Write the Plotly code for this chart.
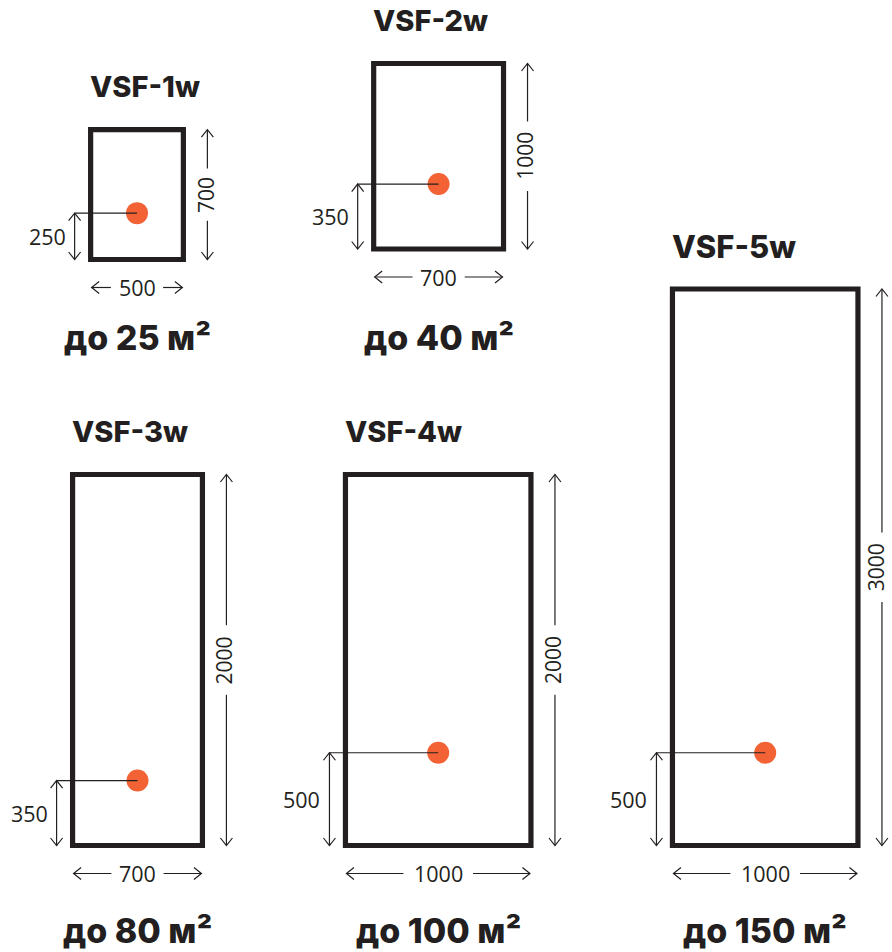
import plotly.graph_objects as go

# ---- data (mm / m²) ----
models = ["VSF-1w", "VSF-2w", "VSF-3w", "VSF-4w", "VSF-5w"]
width_mm = [500, 700, 700, 1000, 1000]
height_mm = [700, 1000, 2000, 2000, 3000]
sensor_mm = [250, 350, 350, 500, 500]
area_m2 = [25, 40, 80, 100, 150]

# ---- layout (pixels) ----
W, H = 892, 952
SCALE = 0.1855            # px per mm
center_x = [137, 438.6, 137.5, 438.2, 765.2]
bottom_y = [259.5, 249, 845.5, 845.5, 845.5]
area_y = [337, 337, 930, 930, 930]
title_size = [29, 29, 29, 29, 31]

INK = "#231f20"
ORANGE = "#f26234"
NUM_FONT = dict(family="Open Sans", size=21.5, color=INK)
VNUM_FONT = dict(family="Open Sans", size=21, color=INK)
BOLD_FONT = "Inter"

fig = go.Figure()
shapes = []
annotations = []


def chevron(x, y, direction, hw=6, d=7.5):
    if direction == "up":
        return f"M {x-hw},{y+d} L {x},{y} L {x+hw},{y+d}"
    if direction == "down":
        return f"M {x-hw},{y-d} L {x},{y} L {x+hw},{y-d}"
    if direction == "left":
        return f"M {x+d},{y-hw} L {x},{y} L {x+d},{y+hw}"
    return f"M {x-d},{y-hw} L {x},{y} L {x-d},{y+hw}"


def line(x0, y0, x1, y1, w=1.2):
    shapes.append(dict(type="line", xref="x", yref="y", x0=x0, y0=y0, x1=x1, y1=y1,
                       line=dict(color=INK, width=w), layer="above"))


def path(p, w=1.2):
    shapes.append(dict(type="path", xref="x", yref="y", path=p,
                       line=dict(color=INK, width=w), layer="above"))


dot_x, dot_y = [], []
for i, name in enumerate(models):
    w = width_mm[i] * SCALE
    h = height_mm[i] * SCALE
    s = sensor_mm[i] * SCALE
    cx = center_x[i]
    left, right = cx - w / 2, cx + w / 2
    bottom = bottom_y[i]
    top = bottom - h
    sy = bottom - s

    # body rectangle
    shapes.append(dict(type="rect", xref="x", yref="y", x0=left, x1=right, y0=top, y1=bottom,
                       line=dict(color=INK, width=5.2), fillcolor="rgba(0,0,0,0)", layer="below"))

    # title
    annotations.append(dict(x=left - 2.5, y=top - 43, xref="x", yref="y", text=name,
                            showarrow=False, xanchor="left", yanchor="middle",
                            font=dict(family=BOLD_FONT, size=title_size[i], color=INK, weight=800)))

    # area label
    annotations.append(dict(x=cx, y=area_y[i], xref="x", yref="y",
                            text=f"до {area_m2[i]} м²", showarrow=False,
                            xanchor="center", yanchor="middle",
                            font=dict(family=BOLD_FONT, size=34, color=INK, weight=800)))

    # bottom width dimension (line broken around the text)
    by = bottom + 28
    wt = str(width_mm[i])
    gap = 8.7 * len(wt)
    line(left + 1, by, cx - gap, by)
    line(cx + gap, by, right - 1, by)
    path(chevron(left + 1, by, "left"))
    path(chevron(right - 1, by, "right"))
    annotations.append(dict(x=cx, y=by, xref="x", yref="y", text=wt,
                            showarrow=False, xanchor="center", yanchor="middle",
                            borderpad=0, font=NUM_FONT))

    # right height dimension (line broken around the text)
    rx = right + 24
    my = (top + bottom) / 2
    ht = str(height_mm[i])
    gap = 8.7 * len(ht)
    line(rx, top, rx, my - gap)
    line(rx, my + gap, rx, bottom)
    path(chevron(rx, top, "up"))
    path(chevron(rx, bottom, "down"))
    annotations.append(dict(x=min(rx - 2, W - 16), y=my, xref="x", yref="y",
                            text=ht, textangle=-90,
                            showarrow=False, xanchor="center", yanchor="middle",
                            borderpad=0, font=VNUM_FONT))

    # sensor height dimension + leader
    lx = left - 16
    line(lx, sy, cx, sy, w=1.1)
    line(lx, sy, lx, bottom)
    path(chevron(lx, sy, "up"))
    path(chevron(lx, bottom, "down"))
    annotations.append(dict(x=lx - 7, y=(sy + bottom) / 2, xref="x", yref="y",
                            text=str(sensor_mm[i]), showarrow=False,
                            xanchor="right", yanchor="middle", font=NUM_FONT))

    dot_x.append(cx)
    dot_y.append(sy)

fig.add_trace(go.Scatter(x=dot_x, y=dot_y, mode="markers",
                         marker=dict(size=22, color=ORANGE, line=dict(width=0)),
                         hoverinfo="skip", showlegend=False))

fig.update_layout(
    width=W, height=H, margin=dict(l=0, r=0, t=0, b=0),
    paper_bgcolor="white", plot_bgcolor="white",
    shapes=shapes, annotations=annotations, showlegend=False,
    xaxis=dict(range=[0, W], visible=False, fixedrange=True),
    yaxis=dict(range=[H, 0], visible=False, fixedrange=True),
)

fig.write_html("out.html", post_script="document.body.style.margin='0';",
               config={"displayModeBar": False})
